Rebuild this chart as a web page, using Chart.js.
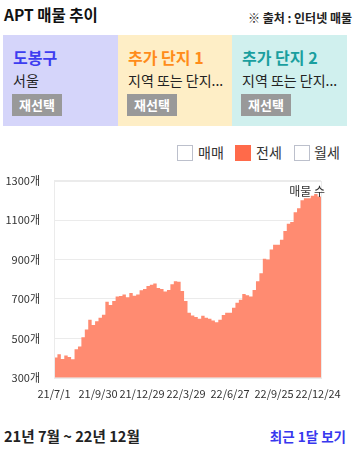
<!DOCTYPE html>
<html><head><meta charset="utf-8">
<script src="https://cdn.jsdelivr.net/npm/chart.js@4"></script>
<style>
body{margin:0;width:358px;height:451px;position:relative;background:#fff;font-family:"Noto Sans CJK KR","Noto Sans",sans-serif;color:#222;overflow:hidden}
.abs{position:absolute;white-space:nowrap}
.box{position:absolute;top:35px;height:91px}
.ttl{position:absolute;left:10px;top:12px;font-size:16px;line-height:20px;font-weight:bold}
.sub{position:absolute;left:10px;top:36px;font-size:14px;line-height:18px;color:#222}
.btn{position:absolute;left:9px;top:59px;width:50px;height:22px;background:#999;color:#fff;font-weight:bold;font-size:13px;line-height:22px;text-align:center}
.cb{position:absolute;top:145px;width:14px;height:14px;border:1px solid #bcc0cc;background:#fff}
.lg{position:absolute;top:142px;font-size:14px;line-height:20px;color:#333}
</style></head><body>
<div class="abs" style="left:4px;top:3px;font-size:15.5px;font-weight:bold;line-height:22px;color:#111">APT 매물 추이</div>
<div class="abs" style="right:6px;top:10px;font-size:12px;font-weight:bold;line-height:16px;color:#222">※ 출처 : 인터넷 매물</div>
<div class="box" style="left:3px;width:115px;background:#d5d5fa">
 <div class="ttl" style="color:#3d3df0">도봉구</div><div class="sub">서울</div><div class="btn">재선택</div></div>
<div class="box" style="left:118px;width:114px;background:#feeec6">
 <div class="ttl" style="color:#ff8c1a">추가 단지 1</div><div class="sub">지역 또는 단지...</div><div class="btn">재선택</div></div>
<div class="box" style="left:232px;width:115px;background:#d0f0ee">
 <div class="ttl" style="color:#1a9f9f">추가 단지 2</div><div class="sub">지역 또는 단지...</div><div class="btn">재선택</div></div>
<div class="cb" style="left:177px"></div><div class="lg" style="left:198px">매매</div>
<div class="cb" style="left:235px;background:#ff6a4a;border-color:#ff6a4a"></div><div class="lg" style="left:256px">전세</div>
<div class="cb" style="left:294px"></div><div class="lg" style="left:314px">월세</div>
<div class="abs" style="left:0;top:160px;width:358px;height:241px"><canvas id="c"></canvas></div>
<div class="abs" style="left:4px;top:426px;font-size:14.6px;font-weight:bold;line-height:20px;color:#222">21년 7월 ~ 22년 12월</div>
<div class="abs" style="right:12px;top:427px;font-size:13.5px;font-weight:bold;line-height:18px;color:#3737ee">최근 1달 보기</div>
<script>
const tickLabels = ['21/7/1','21/9/30','21/12/29','22/3/29','22/6/27','22/9/25','22/12/24'];
const tickDays = [0,90,180,270,360,450,540];
const weekDays = [0,7,14,21,28,35,42,49,56,63,70,77,84,91,98,105,112,119,126,133,140,147,154,161,168,175,182,189,196,203,210,217,224,231,238,245,252,259,266,273,280,287,294,301,308,315,322,329,336,343,350,357,364,371,378,385,392,399,406,413,420,427,434,441,448,455,462,469,476,483,490,497,504,511,518,525,532,539,546];
const listings = [403,403,420,395,413,405,394,445,459,505,545,594,568,587,604,620,686,669,690,712,715,722,708,730,716,722,744,750,765,772,778,755,750,738,745,775,790,787,740,690,630,616,608,600,615,604,599,590,582,595,618,630,630,655,681,696,725,719,712,745,790,830,904,900,950,975,975,1000,1045,1081,1090,1140,1160,1200,1210,1210,1223,1232,1220];
const yTicks = [300,500,700,900,1100,1300];

const frame = {id:'frame',afterDraw(ch){const a=ch.chartArea,c=ch.ctx;c.save();c.strokeStyle='#ebebeb';c.lineWidth=1;
 c.strokeRect(Math.round(a.left)+0.5,Math.round(a.top)+0.5,Math.round(a.right-a.left),Math.round(a.bottom-a.top));
 c.fillStyle='#333';c.font='12px "Noto Sans CJK KR"';c.textAlign='right';c.textBaseline='middle';c.fillText('매물 수',a.right+4,a.top+11);c.restore();}};

new Chart(document.getElementById('c'),{
 type:'line',
 data:{datasets:[{data:weekDays.map((d,i)=>({x:d,y:listings[i]})),stepped:'after',fill:'start',backgroundColor:'#ff8b71',borderColor:'#ff8b71',borderWidth:0,pointRadius:0}]},
 options:{responsive:true,maintainAspectRatio:false,animation:false,
  layout:{padding:{top:5,right:37,bottom:0,left:0}},
  plugins:{legend:{display:false},tooltip:{enabled:false}},
  scales:{
   x:{type:'linear',min:0,max:546,grid:{display:false},border:{display:false},
      afterBuildTicks(s){s.ticks=tickDays.map(v=>({value:v}));},
      ticks:{padding:1,maxRotation:0,autoSkip:false,color:'#333',font:{size:11,family:'"Noto Sans CJK KR"'},callback:(v)=>tickLabels[tickDays.indexOf(v)]}},
   y:{min:300,max:1300,afterFit(s){s.width=54;},
      afterBuildTicks(s){s.ticks=yTicks.map(v=>({value:v}));},
      grid:{color:'#ebebeb',drawTicks:false},border:{display:false},
      ticks:{padding:14,color:'#333',font:{size:11,family:'"Noto Sans CJK KR"'},callback:v=>v+'개'}}
  }},
 plugins:[frame]
});
</script>
</body></html>
